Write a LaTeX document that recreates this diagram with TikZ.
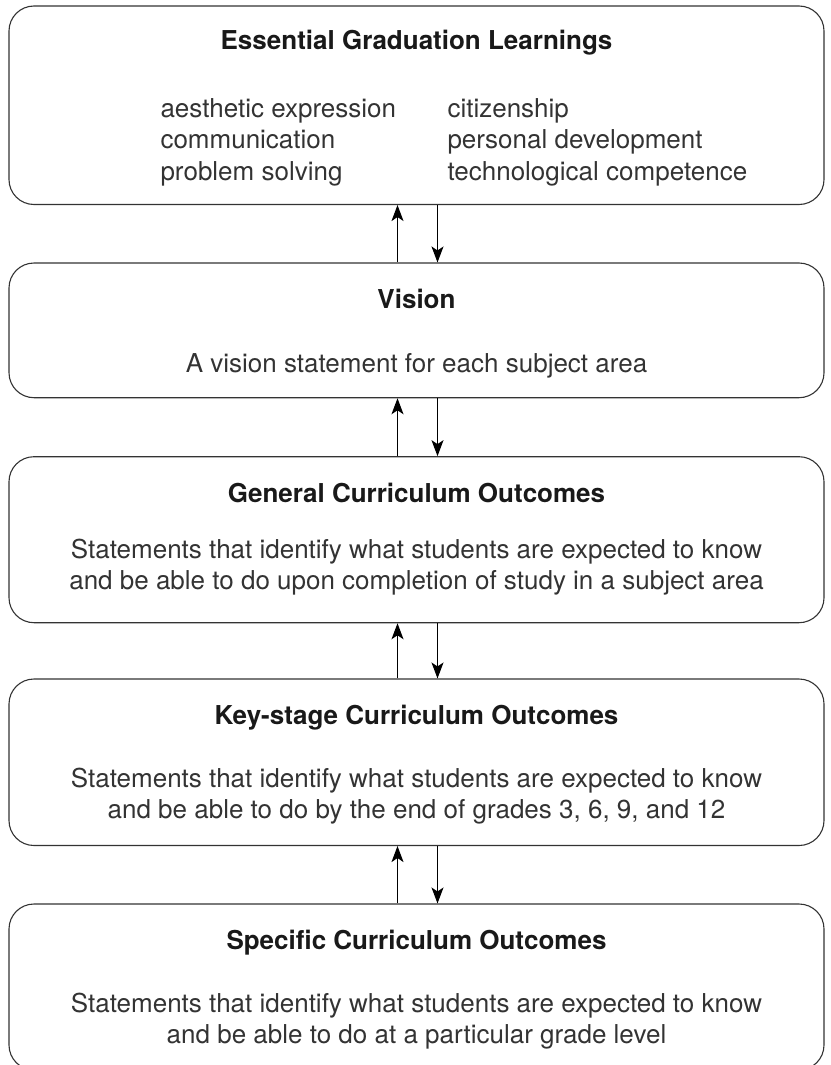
\documentclass[tikz,border=0pt]{standalone}
\usepackage{fontspec}
\setmainfont{TeX Gyre Heros}
\usetikzlibrary{positioning}
\usetikzlibrary{arrows.meta}
\tikzset{
    stagebox/.style = {rectangle, rounded corners=25pt, line width=1.1pt, draw=black!80, minimum width=815pt, inner sep=0pt},
    headtext/.style = {anchor=base, font=\fontsize{26}{31}\selectfont\bfseries, text=black!90},
    bodytext/.style = {anchor=base, align=center, font=\fontsize{26}{30.5}\selectfont, text=black!80},
    listtext/.style = {anchor=base west, align=left, font=\fontsize{26}{31.5}\selectfont, text=black!80},
    edgeup/.style = {-{Stealth[length=16pt,width=12pt,inset=4pt]}, line width=1.1pt, black},
    edgedn/.style = {-{Stealth[length=16pt,width=12pt,inset=4pt]}, line width=1.1pt, black}
}
\begin{document}
\begin{tikzpicture}[x=1pt,y=-1pt]
\path[use as bounding box] (0,0) rectangle (830,1065);
\node[stagebox, minimum height=198.5pt] at (416.5,105.25) (egl) {};
\node[stagebox, minimum height=134.7pt] at (416.5,330.35) (vis) {};
\node[stagebox, minimum height=166pt] at (416.5,539.7) (gco) {};
\node[stagebox, minimum height=166.5pt] at (416.5,762.25) (kco) {};
\node[stagebox, minimum height=166pt] at (416.5,987) (sco) {};
%
\node[headtext] at (416.5,50) (eglh) {Essential Graduation Learnings};
\node[listtext] at (157,180) (egla) {aesthetic expression\\communication\\problem solving};
\node[listtext] at (444,180) (eglb) {citizenship\\personal development\\technological competence};
\node[headtext] at (416.5,308) (vish) {Vision};
\node[bodytext] at (416.5,372) (vist) {A vision statement for each subject area};
\node[headtext] at (416.5,502) (gcoh) {General Curriculum Outcomes};
\node[bodytext] at (416.5,589) (gcot) {Statements that identify what students are expected to know\\and be able to do upon completion of study in a subject area};
\node[headtext] at (416.5,724) (kcoh) {Key-stage Curriculum Outcomes};
\node[bodytext] at (416.5,818) (kcot) {Statements that identify what students are expected to know\\and be able to do by the end of grades 3, 6, 9, and 12};
\node[headtext] at (416.5,949) (scoh) {Specific Curriculum Outcomes};
\node[bodytext] at (416.5,1043) (scot) {Statements that identify what students are expected to know\\and be able to do at a particular grade level};
%
\draw[edgeup] ([xshift=-19pt]vis.north) -- ([xshift=-19pt]egl.south);
\draw[edgedn] ([xshift=21pt]egl.south) -- ([xshift=21pt]vis.north);
\draw[edgeup] ([xshift=-19pt]gco.north) -- ([xshift=-19pt]vis.south);
\draw[edgedn] ([xshift=21pt]vis.south) -- ([xshift=21pt]gco.north);
\draw[edgeup] ([xshift=-19pt]kco.north) -- ([xshift=-19pt]gco.south);
\draw[edgedn] ([xshift=21pt]gco.south) -- ([xshift=21pt]kco.north);
\draw[edgeup] ([xshift=-19pt]sco.north) -- ([xshift=-19pt]kco.south);
\draw[edgedn] ([xshift=21pt]kco.south) -- ([xshift=21pt]sco.north);
\end{tikzpicture}
\end{document}
